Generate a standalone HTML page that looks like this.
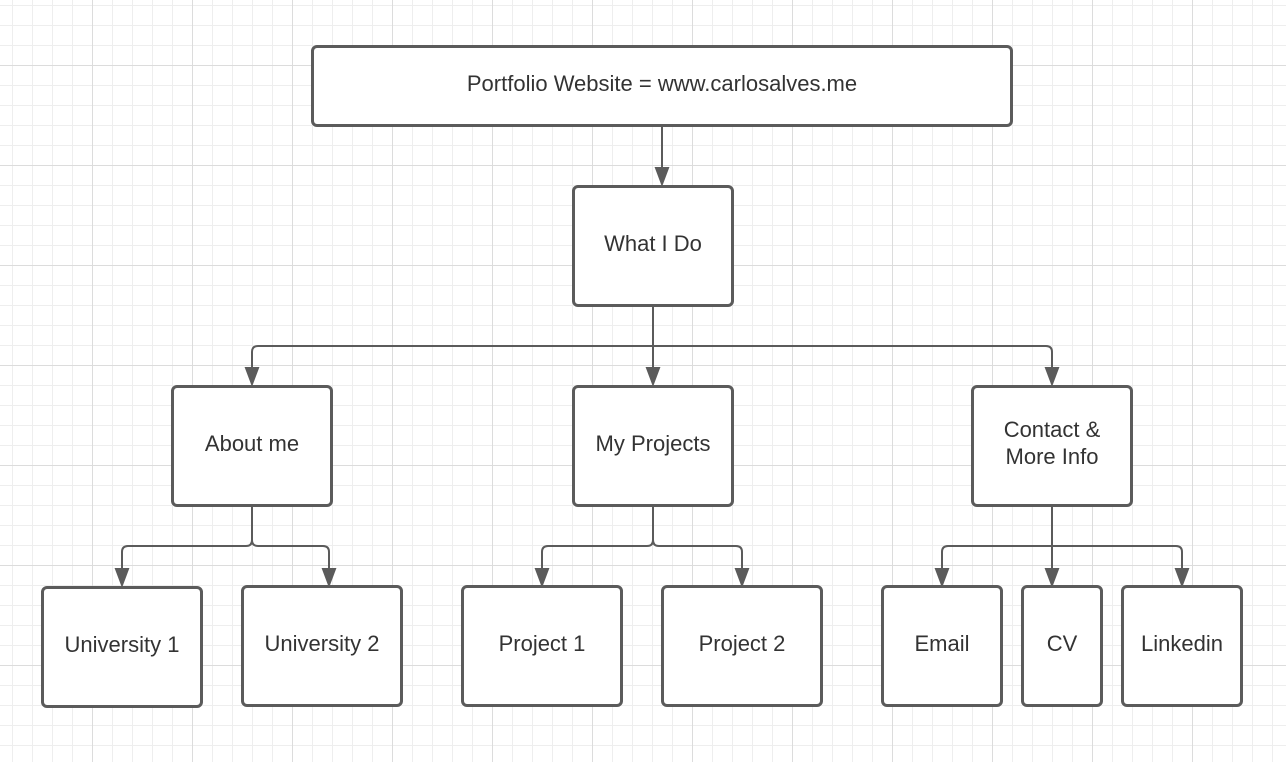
<!DOCTYPE html>
<html><head><style>
html,body{margin:0;padding:0;}
body{width:1286px;height:762px;overflow:hidden;background:#fff;position:relative;font-family:"Liberation Sans",sans-serif;}
.g{position:absolute;inset:0;
background-image:
linear-gradient(to right,#dcdcdc 1px,transparent 1px),
linear-gradient(to bottom,#dcdcdc 1px,transparent 1px),
linear-gradient(to right,#eeeeee 1px,transparent 1px),
linear-gradient(to bottom,#eeeeee 1px,transparent 1px);
background-size:100px 100px,100px 100px,20px 20px,20px 20px;
background-position:92px 0,0 65px,12px 0,0 5px;}
.b{position:absolute;box-sizing:border-box;border:3px solid #5b5b5b;border-radius:6px;background:#fff;display:flex;align-items:center;justify-content:center;text-align:center;font-size:22px;color:#333;line-height:27px;padding-bottom:6px;}
svg{position:absolute;left:0;top:0;}
</style></head><body>
<div class="g"></div>
<svg width="1286" height="762">
<g stroke="#5b5b5b" stroke-width="2" fill="none">
<path d="M662,126 V168"/>
<path d="M662,168 l-6,0 l6,16 l6,-16z" fill="#5b5b5b"/>
<path d="M653,306 V346 M653,346 H258 q-6,0 -6,6 V368 M653,346 H1046 q6,0 6,6 V368 M653,346 V368"/>
<path d="M252,368 l-6,0 l6,16 l6,-16z M653,368 l-6,0 l6,16 l6,-16z M1052,368 l-6,0 l6,16 l6,-16z" fill="#5b5b5b"/>
<path d="M252,506 V540 q0,6 -6,6 H128 q-6,0 -6,6 V569 M252,540 q0,6 6,6 H323 q6,0 6,6 V569"/>
<path d="M122,569 l-6,0 l6,16 l6,-16z M329,569 l-6,0 l6,16 l6,-16z" fill="#5b5b5b"/>
<path d="M653,506 V540 q0,6 -6,6 H548 q-6,0 -6,6 V569 M653,540 q0,6 6,6 H736 q6,0 6,6 V569"/>
<path d="M542,569 l-6,0 l6,16 l6,-16z M742,569 l-6,0 l6,16 l6,-16z" fill="#5b5b5b"/>
<path d="M1052,506 V569 M1052,546 H948 q-6,0 -6,6 V569 M1052,546 H1176 q6,0 6,6 V569"/>
<path d="M942,569 l-6,0 l6,16 l6,-16z M1052,569 l-6,0 l6,16 l6,-16z M1182,569 l-6,0 l6,16 l6,-16z" fill="#5b5b5b"/>
</g></svg>
<div class="b" style="left:311px;top:45px;width:702px;height:82px;">Portfolio Website = www.carlosalves.me</div>
<div class="b" style="left:572px;top:185px;width:162px;height:122px;">What I Do</div>
<div class="b" style="left:171px;top:385px;width:162px;height:122px;">About me</div>
<div class="b" style="left:572px;top:385px;width:162px;height:122px;">My Projects</div>
<div class="b" style="left:971px;top:385px;width:162px;height:122px;">Contact &amp;<br>More Info</div>
<div class="b" style="left:41px;top:586px;width:162px;height:122px;">University 1</div>
<div class="b" style="left:241px;top:585px;width:162px;height:122px;">University 2</div>
<div class="b" style="left:461px;top:585px;width:162px;height:122px;">Project 1</div>
<div class="b" style="left:661px;top:585px;width:162px;height:122px;">Project 2</div>
<div class="b" style="left:881px;top:585px;width:122px;height:122px;">Email</div>
<div class="b" style="left:1021px;top:585px;width:82px;height:122px;">CV</div>
<div class="b" style="left:1121px;top:585px;width:122px;height:122px;">Linkedin</div>
</body></html>
